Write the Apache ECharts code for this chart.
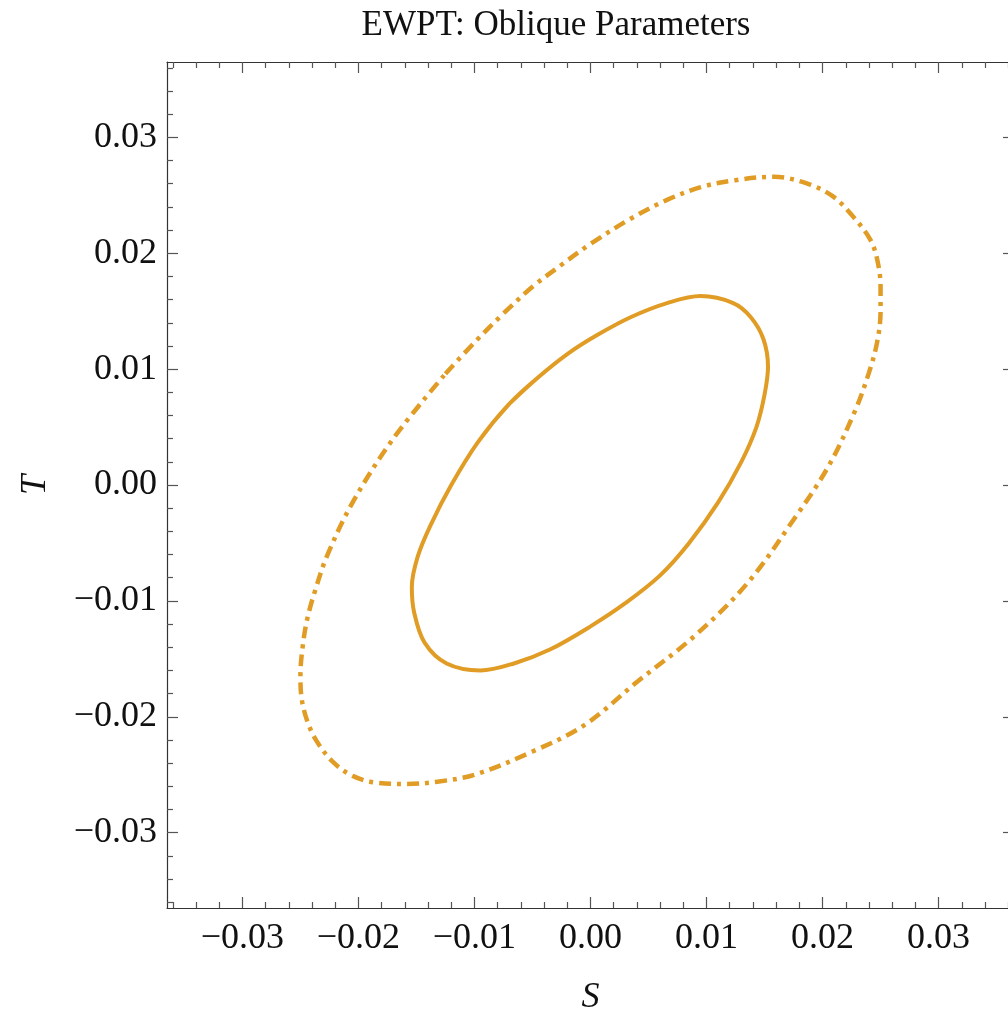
<!DOCTYPE html>
<html><head><meta charset="utf-8">
<script src="https://cdn.jsdelivr.net/npm/echarts@6/dist/echarts.min.js"></script>
<style>html,body{margin:0;padding:0;background:#fff}#c{width:1008px;height:1014px}</style>
</head><body><div id="c"></div>
<script>
const titleText = 'EWPT: Oblique Parameters';
const xName = 'S';
const yName = 'T';
const majorTicks = [-0.03, -0.02, -0.01, 0.00, 0.01, 0.02, 0.03];
const minorTicks = [-0.036,-0.034,-0.032,-0.028,-0.026,-0.024,-0.022,-0.018,-0.016,-0.014,-0.012,-0.008,-0.006,-0.004,-0.002,0.002,0.004,0.006,0.008,0.012,0.014,0.016,0.018,0.022,0.024,0.026,0.028,0.032,0.034,0.036];

// inner (solid) contour (closed loop; last point repeats the 2nd so the seam is smooth)
const innerS = [-0.0070,-0.0045,-0.0020,0.0005,0.0035,0.0066,0.0095,0.0123,0.0138,0.0149,0.0153,0.0150,0.0143,0.0130,0.0110,0.0085,0.0060,0.0030,0.0000,-0.0035,-0.0066,-0.0095,-0.0124,-0.0143,-0.0152,-0.0154,-0.0149,-0.0138,-0.0120,-0.0097,-0.0070,-0.0045];
const innerT = [0.0070,0.0093,0.0113,0.0129,0.0145,0.0157,0.0163,0.0157,0.0145,0.0126,0.0102,0.0078,0.0050,0.0020,-0.0015,-0.0050,-0.0078,-0.0102,-0.0122,-0.0142,-0.0154,-0.0160,-0.0154,-0.0136,-0.0110,-0.0088,-0.0062,-0.0035,0.0000,0.0037,0.0070,0.0093];

// outer (dash-dot) contour
const outerS = [-0.0125,-0.0100,-0.0075,-0.0050,-0.0025,0.0000,0.0035,0.0066,0.0095,0.0125,0.0158,0.0187,0.0209,0.0226,0.0241,0.0247,0.0250,0.0250,0.0247,0.0240,0.0228,0.0205,0.0175,0.0135,0.0090,0.0040,-0.0005,-0.0050,-0.0100,-0.0132,-0.0158,-0.0184,-0.0205,-0.0222,-0.0236,-0.0244,-0.0249,-0.0250,-0.0248,-0.0244,-0.0237,-0.0227,-0.0205,-0.0170,-0.0125];
const outerT = [0.0096,0.0123,0.0148,0.0171,0.0190,0.0208,0.0230,0.0246,0.0257,0.0263,0.0266,0.0260,0.0249,0.0232,0.0212,0.0195,0.0171,0.0150,0.0123,0.0097,0.0064,0.0016,-0.0030,-0.0085,-0.0130,-0.0170,-0.0207,-0.0230,-0.0250,-0.0256,-0.0258,-0.0257,-0.0251,-0.0239,-0.0221,-0.0204,-0.0184,-0.0164,-0.0139,-0.0115,-0.0090,-0.0061,-0.0015,0.0040,0.0096];

const AX_MIN = -0.0365, AX_MAX = 0.0365;
const FONT = 'Liberation Serif';
const lineColor = '#E09C24';
const fmt = v => { const a = Math.abs(v) < 1e-9 ? 0 : v; return (a < 0 ? '\u2212' : '') + Math.abs(a).toFixed(2); };

function axis(dim, pos, kind, opts) {
  const major = kind === 'major';
  const showLabel = major && (pos === 'bottom' || pos === 'left');
  const a = {
    type: 'value', position: pos, min: AX_MIN, max: AX_MAX,
    splitLine: { show: false },
    axisLine: { show: major, onZero: false, lineStyle: { color: '#333', width: 1.2 } },
    axisTick: { show: true, inside: true, length: major ? 11 : 6, customValues: major ? majorTicks : minorTicks,
                lineStyle: { color: '#555', width: 1.2 } },
    axisLabel: { show: showLabel, customValues: majorTicks, formatter: fmt,
                 fontFamily: FONT, fontSize: 36, color: '#111', margin: dim === 'x' ? 13 : 10 }
  };
  return Object.assign(a, opts || {});
}

const chart = echarts.init(document.getElementById('c'), null, { renderer: 'canvas' });
chart.setOption({
  animation: false,
  backgroundColor: '#fff',
  title: { text: titleText, left: 551, top: 3, textAlign: 'center',
           textStyle: { fontFamily: FONT, fontSize: 35, fontWeight: 'normal', color: '#111' } },
  grid: { left: 167, top: 62, width: 847, height: 846, outerBoundsMode: 'none', containLabel: false },
  xAxis: [
    axis('x', 'bottom', 'major', { name: xName, nameLocation: 'middle', nameGap: 72,
      nameTextStyle: { fontFamily: FONT, fontSize: 36, fontStyle: 'italic', color: '#111' } }),
    axis('x', 'bottom', 'minor'),
    axis('x', 'top', 'major'),
    axis('x', 'top', 'minor')
  ],
  yAxis: [
    axis('y', 'left', 'major', { name: yName, nameLocation: 'middle', nameGap: 113, nameRotate: 90,
      nameTextStyle: { fontFamily: FONT, fontSize: 36, fontStyle: 'italic', color: '#111' } }),
    axis('y', 'left', 'minor'),
    axis('y', 'right', 'major'),
    axis('y', 'right', 'minor')
  ],
  series: [
    { type: 'line', xAxisIndex: 0, yAxisIndex: 0, showSymbol: false, smooth: 0.35,
      data: innerS.map((s, i) => [s, innerT[i]]),
      lineStyle: { color: lineColor, width: 4 } },
    { type: 'line', xAxisIndex: 0, yAxisIndex: 0, showSymbol: false, smooth: 0.35,
      data: outerS.map((s, i) => [s, outerT[i]]),
      lineStyle: { color: lineColor, width: 4.5, type: [12, 6, 4, 6], cap: 'butt' } }
  ]
});
</script></body></html>
